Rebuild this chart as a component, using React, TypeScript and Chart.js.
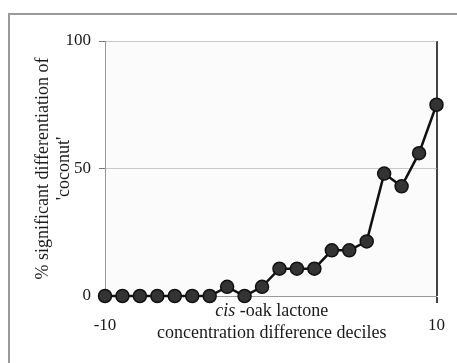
import React, { useEffect, useRef } from 'react';
import { Chart, registerables } from 'chart.js';

Chart.register(...registerables);

const deciles: string[] = ['-10', '-9', '-8', '-7', '-6', '-5', '-4', '-3', '-2', '-1', '1', '2', '3', '4', '5', '6', '7', '8', '9', '10'];
const coconutPct: number[] = [0, 0, 0, 0, 0, 0, 0, 3.6, 0, 3.6, 10.7, 10.7, 10.7, 17.9, 17.9, 21.4, 48, 43, 56, 75];
const yTicks: number[] = [0, 50, 100];
const yTitle: string[] = ['% significant differentiation of', "'coconut'"];
const xTitleItalic = 'cis';
const xTitleRest = ' -oak lactone';
const xTitleLine2 = 'concentration difference deciles';

const SERIF = "'Liberation Serif', 'Times New Roman', serif";

export default function App() {
  const ref = useRef<HTMLCanvasElement | null>(null);
  useEffect(() => {
    if (!ref.current) return;
    const last = deciles.length - 1;
    const framePlugin = {
      id: 'frameAndTitles',
      beforeDraw(chart: any) {
        const ctx = chart.ctx;
        ctx.save();
        ctx.strokeStyle = '#9a9a9a';
        ctx.lineWidth = 2;
        ctx.beginPath();
        ctx.moveTo(9, 363);
        ctx.lineTo(9, 14);
        ctx.lineTo(457, 14);
        ctx.stroke();
        const a = chart.chartArea;
        ctx.fillStyle = '#fbfbfb';
        ctx.fillRect(a.left, a.top, a.right - a.left, a.bottom - a.top);
        ctx.restore();
      },
      afterDraw(chart: any) {
        const ctx = chart.ctx;
        const a = chart.chartArea;
        ctx.save();
        ctx.fillStyle = '#1a1a1a';
        ctx.textBaseline = 'middle';
        const cx = (a.left + a.right) / 2 + 1;
        ctx.font = `italic 18px ${SERIF}`;
        const w1 = ctx.measureText(xTitleItalic).width;
        ctx.font = `18px ${SERIF}`;
        const w2 = ctx.measureText(xTitleRest).width;
        const start = cx - (w1 + w2) / 2;
        ctx.textAlign = 'left';
        ctx.font = `italic 18px ${SERIF}`;
        ctx.fillText(xTitleItalic, start, a.bottom + 15);
        ctx.font = `18px ${SERIF}`;
        ctx.fillText(xTitleRest, start + w1, a.bottom + 15);
        ctx.textAlign = 'center';
        ctx.fillText(xTitleLine2, cx, a.bottom + 37);
        ctx.restore();
      },
    };
    const chart = new Chart(ref.current, {
      type: 'line',
      data: {
        labels: deciles,
        datasets: [
          {
            data: coconutPct,
            borderColor: '#111',
            borderWidth: 2.5,
            pointRadius: 6.5,
            pointBackgroundColor: '#333',
            pointBorderColor: '#111',
            pointBorderWidth: 1.5,
            tension: 0,
            clip: false,
          },
        ],
      },
      options: {
        responsive: false,
        animation: false,
        events: [],
        layout: { padding: { top: 41, right: 17, left: 0, bottom: 0 } },
        plugins: { legend: { display: false }, tooltip: { enabled: false }, title: { display: false } },
        scales: {
          x: {
            type: 'category',
            offset: false,
            afterFit(scale: any) {
              scale.height = 67;
            },
            border: { display: true, color: '#999', width: 1 },
            grid: {
              drawOnChartArea: true,
              drawTicks: true,
              tickLength: 7,
              color: (c: any) => (c.index === 0 ? '#999' : c.index === last ? '#444' : 'transparent'),
              lineWidth: (c: any) => (c.index === last ? 2 : 1),
            },
            ticks: {
              autoSkip: false,
              maxRotation: 0,
              padding: 12,
              color: '#1a1a1a',
              font: { family: SERIF, size: 17 },
              callback: (_v: any, i: number) => (i === 0 || i === last ? deciles[i] : ''),
            },
          },
          y: {
            min: 0,
            max: 100,
            afterFit(scale: any) {
              scale.width = 105;
            },
            afterBuildTicks(scale: any) {
              scale.ticks = yTicks.map((v) => ({ value: v }));
            },
            border: { display: true, color: '#999', width: 1 },
            grid: {
              color: '#c8c8c8',
              tickColor: '#777',
              tickLength: 6,
            },
            ticks: {
              padding: 8,
              color: '#1a1a1a',
              font: { family: SERIF, size: 17 },
            },
            title: {
              display: true,
              text: yTitle,
              color: '#1a1a1a',
              font: { family: SERIF, size: 18, lineHeight: 1.2 },
              padding: { top: 32, bottom: 0 },
            },
          },
        },
      },
      plugins: [framePlugin],
    });
    return () => chart.destroy();
  }, []);
  return (
    <div style={{ position: 'fixed', left: 0, top: 0, width: 457, height: 363, background: '#fff' }}>
      <canvas ref={ref} width={457} height={363} style={{ display: 'block', width: 457, height: 363 }} />
    </div>
  );
}
